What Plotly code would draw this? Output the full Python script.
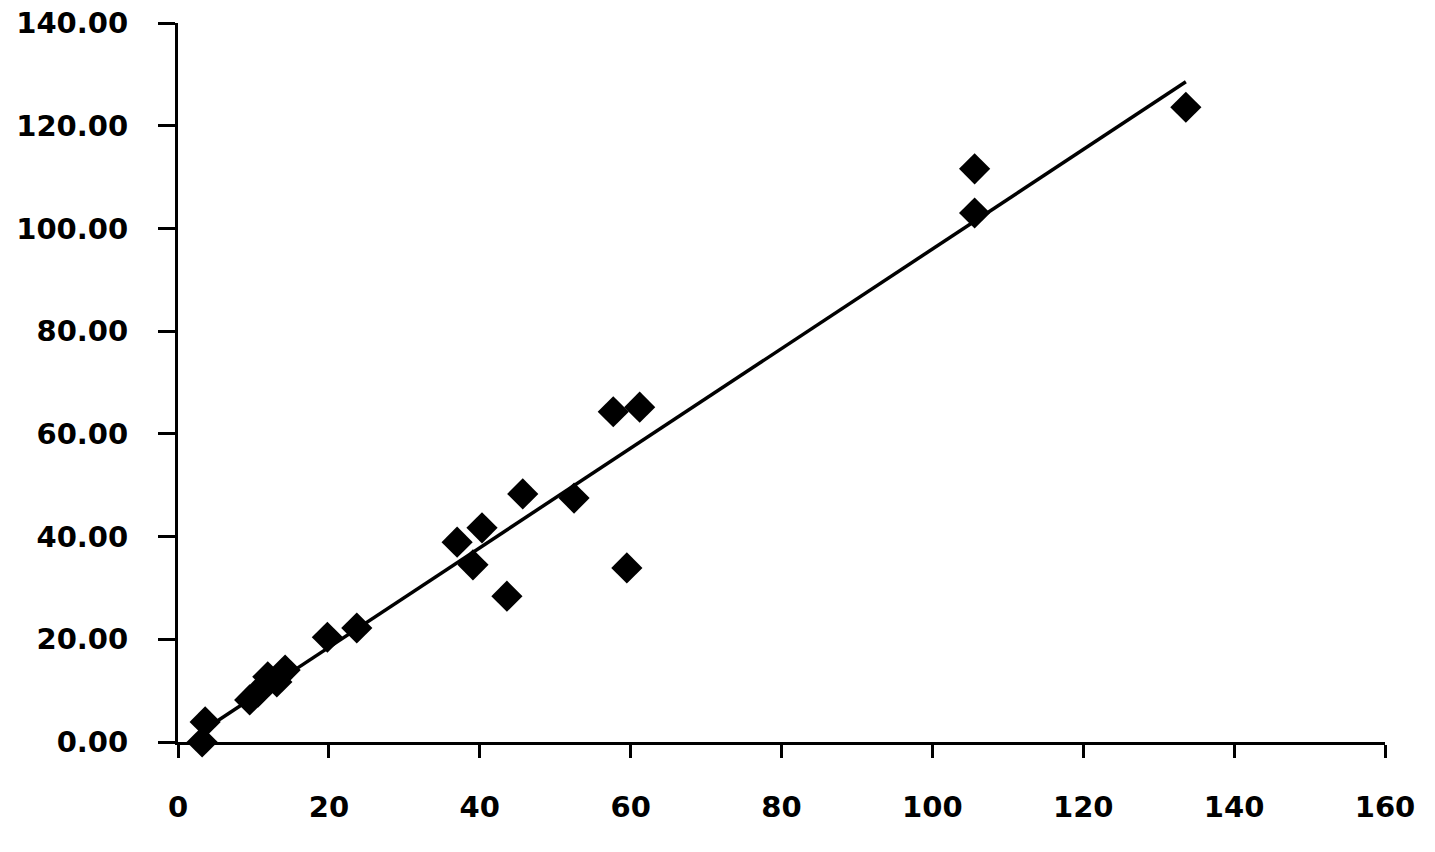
import numpy as np
import plotly.graph_objects as go

x_vals = [3.2, 3.6, 9.5, 10.6, 11.9, 13.1, 14.2, 19.8, 23.7, 37.0, 40.3, 39.1, 43.6,
          45.7, 52.5, 59.5, 57.7, 61.2, 105.6, 105.6, 133.6]
y_vals = [0.0, 3.9, 8.2, 9.7, 12.7, 11.7, 14.0, 20.4, 22.2, 38.9, 41.7, 34.5, 28.4,
          48.3, 47.5, 33.9, 64.3, 65.2, 111.6, 103.0, 123.6]

x_ticks = [0, 20, 40, 60, 80, 100, 120, 140, 160]
y_ticks = [0, 20, 40, 60, 80, 100, 120, 140]

slope, intercept = np.polyfit(x_vals, y_vals, 1)
fit_x = [min(x_vals), max(x_vals)]
fit_y = [slope * v + intercept for v in fit_x]

fig = go.Figure()
fig.add_trace(go.Scatter(x=fit_x, y=fit_y, mode="lines",
                         line=dict(color="black", width=3.5), showlegend=False,
                         cliponaxis=False))
fig.add_trace(go.Scatter(x=x_vals, y=y_vals, mode="markers",
                         marker=dict(symbol="diamond", size=24, color="black",
                                     line=dict(width=0)),
                         showlegend=False, cliponaxis=False))

tfont = dict(family="DejaVu Sans, sans-serif", size=29, color="black", weight="bold")

fig.update_layout(
    width=1435, height=852,
    margin=dict(l=170, r=58, t=15, b=118),
    plot_bgcolor="white", paper_bgcolor="white",
    xaxis=dict(range=[0, 160], tickvals=x_ticks, ticktext=[str(v) for v in x_ticks],
               showgrid=False, zeroline=False, showline=True, linecolor="black",
               linewidth=3, ticks="outside", ticklen=13, tickwidth=3,
               tickcolor="black", tickfont=tfont, automargin=False,
               ticklabelstandoff=24, ticklabeloverflow="allow"),
    yaxis=dict(range=[0, 140], tickvals=y_ticks, ticktext=[f"{v:.2f}" for v in y_ticks],
               showgrid=False, zeroline=False, showline=True, linecolor="black",
               linewidth=3, ticks="outside", ticklen=17, tickwidth=3,
               tickcolor="black", tickfont=tfont, automargin=False,
               ticklabelstandoff=24, ticklabeloverflow="allow"),
)

fig.write_html("out.html")
